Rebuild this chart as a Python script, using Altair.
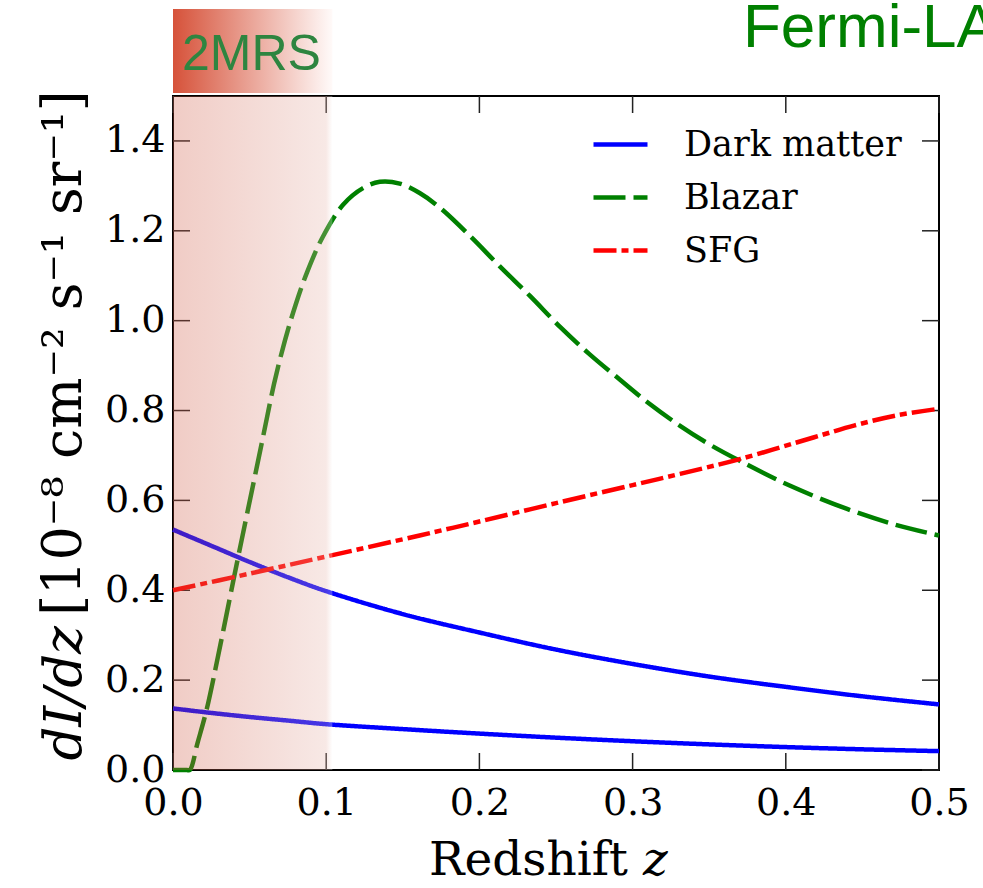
import altair as alt
import pandas as pd

# ---------------- data ----------------
series_names = ["Dark matter", "Blazar", "SFG"]
series_colors = ["#0000ff", "#008000", "#ff0000"]
series_dashes = [[1, 0], [32, 8], [23, 5, 7, 5]]

z_dm = [0.0, 0.025, 0.05, 0.075, 0.1, 0.15, 0.2, 0.25, 0.3, 0.35, 0.4, 0.45, 0.5]
dm_upper = [0.535, 0.499, 0.463, 0.429, 0.398, 0.347, 0.306, 0.268, 0.236, 0.208, 0.185, 0.164, 0.146]
dm_lower = [0.137, 0.127, 0.118, 0.110, 0.102, 0.091, 0.081, 0.072, 0.064, 0.057, 0.051, 0.046, 0.042]

z_blazar = [0.0, 0.009, 0.011, 0.016, 0.022, 0.031, 0.039, 0.045, 0.052, 0.059, 0.066, 0.073,
            0.080, 0.088, 0.098, 0.111, 0.124, 0.135, 0.148, 0.161, 0.174, 0.194, 0.213,
            0.233, 0.253, 0.272, 0.292, 0.311, 0.331, 0.35, 0.37, 0.4025, 0.44, 0.4724, 0.5]
blazar = [0.0, 0.0, 0.0, 0.06, 0.135, 0.28, 0.415, 0.515, 0.63, 0.745, 0.86, 0.955,
          1.035, 1.112, 1.188, 1.258, 1.295, 1.309, 1.305, 1.284, 1.252, 1.188, 1.122,
          1.055, 0.985, 0.925, 0.868, 0.815, 0.766, 0.725, 0.688, 0.633, 0.581, 0.545, 0.522]

z_sfg = [0.0, 0.05, 0.1, 0.161, 0.2, 0.25, 0.3, 0.331, 0.37, 0.418, 0.445, 0.472, 0.5]
sfg = [0.400, 0.437, 0.475, 0.522, 0.553, 0.594, 0.634, 0.659, 0.692, 0.740, 0.767, 0.789, 0.804]

x_ticks = [0.0, 0.1, 0.2, 0.3, 0.4, 0.5]
y_ticks = [0.0, 0.2, 0.4, 0.6, 0.8, 1.0, 1.2, 1.4]
x_domain = [0.0, 0.5]
y_domain = [0.0, 1.5]

band_start = 0.0
band_end = 0.104
band_label = "2MRS"
corner_title = "Fermi-LAT"

# ---------------- tables ----------------
rows = []
for z, v in zip(z_dm, dm_upper):
    rows.append({"series": "Dark matter", "curve": "dm_upper", "z": z, "value": v})
for z, v in zip(z_dm, dm_lower):
    rows.append({"series": "Dark matter", "curve": "dm_lower", "z": z, "value": v})
for z, v in zip(z_blazar, blazar):
    rows.append({"series": "Blazar", "curve": "blazar", "z": z, "value": v})
for z, v in zip(z_sfg, sfg):
    rows.append({"series": "SFG", "curve": "sfg", "z": z, "value": v})
df = pd.DataFrame(rows)

xt = pd.DataFrame({"z": x_ticks})
yt = pd.DataFrame({"value": y_ticks})
band = pd.DataFrame({"z": [band_start], "z1": [band_end]})

W, H = 766, 674
TICK = 17
SERIF = "DejaVu Serif"

xscale = alt.Scale(domain=x_domain, nice=False, zero=False)
yscale = alt.Scale(domain=y_domain, nice=False, zero=False)
xaxis = alt.Axis(values=x_ticks, format=".1f", ticks=False, domain=False, grid=False,
                 labelFont=SERIF, labelFontSize=38, labelColor="black", labelPadding=14,
                 labelOverlap=False, labelFlush=False, title=None)
yaxis = alt.Axis(values=y_ticks, format=".1f", ticks=False, domain=False, grid=False,
                 labelFont=SERIF, labelFontSize=38, labelColor="black", labelPadding=8,
                 labelOverlap=False, labelFlush=False, title=None)

X = lambda f="z": alt.X(f"{f}:Q", scale=xscale, axis=xaxis)
Y = lambda f="value": alt.Y(f"{f}:Q", scale=yscale, axis=yaxis)

tick_style = dict(stroke="#222222", strokeWidth=1.5)
ticks_bottom = alt.Chart(xt).mark_rule(**tick_style).encode(x=X(), y=alt.value(H), y2=alt.value(H - TICK))
ticks_top = alt.Chart(xt).mark_rule(**tick_style).encode(x=X(), y=alt.value(0), y2=alt.value(TICK))
ticks_left = alt.Chart(yt).mark_rule(**tick_style).encode(y=Y(), x=alt.value(0), x2=alt.value(TICK))
ticks_right = alt.Chart(yt).mark_rule(**tick_style).encode(y=Y(), x=alt.value(W - TICK), x2=alt.value(W))

legend = alt.Legend(orient="none", legendX=418, legendY=19, title=None, symbolType="stroke",
                    symbolSize=2916, symbolStrokeWidth=4.5, labelFont=SERIF, labelFontSize=35,
                    labelColor="black", labelOffset=34, rowPadding=5, padding=0, labelLimit=400)

lines = alt.Chart(df).mark_line(strokeWidth=4.5, interpolate="catmull-rom").encode(
    x=X(), y=Y(),
    color=alt.Color("series:N", scale=alt.Scale(domain=series_names, range=series_colors), legend=legend),
    strokeDash=alt.StrokeDash("series:N", scale=alt.Scale(domain=series_names, range=series_dashes), legend=legend),
    detail="curve:N",
)

band_fill = alt.LinearGradient(
    gradient="linear",
    stops=[alt.GradientStop(offset=0, color="#cf5640"),
           alt.GradientStop(offset=0.96, color="#e6b4aa"),
           alt.GradientStop(offset=1, color="#ffffff")],
    x1=0, x2=1, y1=0, y2=0)
shade = alt.Chart(band).mark_rect(fill=band_fill, fillOpacity=0.3).encode(
    x=X(), x2="z1:Q", y=alt.datum(0), y2=alt.datum(1.5))

box_fill = alt.LinearGradient(
    gradient="linear",
    stops=[alt.GradientStop(offset=0, color="#d6523a"),
           alt.GradientStop(offset=1, color="#fffaf9")],
    x1=0, x2=1, y1=0, y2=0)
box = alt.Chart(band).mark_rect(fill=box_fill).encode(
    x=X(), x2="z1:Q", y=alt.value(-87), y2=alt.value(-3))

def label(text, x, y, size, color="black", font=SERIF, align="left", style="normal", angle=0):
    return alt.Chart(pd.DataFrame({"t": [text]})).mark_text(
        font=font, fontSize=size, color=color, align=align, baseline="alphabetic",
        fontStyle=style, angle=angle).encode(text="t:N", x=alt.value(x), y=alt.value(y))

box_text = label(band_label, 9, -26, 50, color="#2e8540", font="Liberation Sans")
top_text = label(corner_title, 570, -49, 62, color="#008000", font="Liberation Sans")

xt1 = label("Redshift", 455, 779, 47, align="right")
xt2 = label("z", 470, 779, 47, style="italic")
yt1 = label("dI/dz", -92, 530, 53, align="right", style="italic", angle=270)
yt2 = label("[10\u207b\u2078 cm\u207b\u00b2 s\u207b\u00b9 sr\u207b\u00b9]", -92, 520, 54, align="left", angle=270)

chart = alt.layer(
    ticks_bottom, ticks_top, ticks_left, ticks_right, lines, shade, box,
    box_text, top_text, xt1, xt2, yt1, yt2
).properties(
    width=W, height=H,
    autosize=alt.AutoSizeParams(type="none"),
    padding={"left": 173, "top": 96, "right": 44, "bottom": 114},
    background="white",
).configure_view(stroke="black", strokeWidth=2)

chart.save("out.html", embed_options={"renderer": "svg", "actions": False})
